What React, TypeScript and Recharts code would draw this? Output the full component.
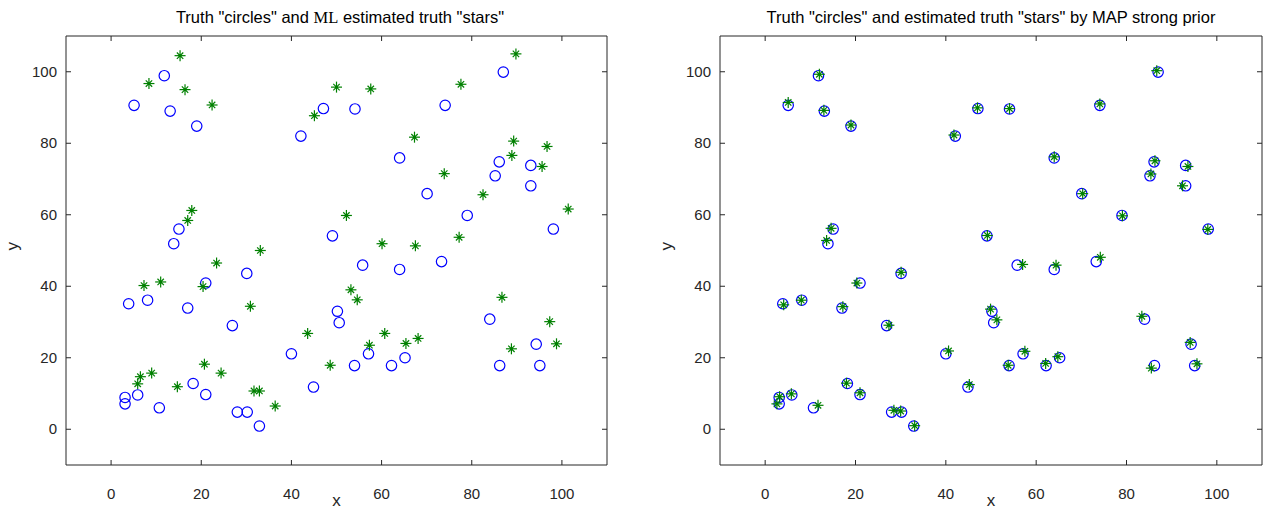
import React from "react";
import { ScatterChart, Scatter, XAxis, YAxis, ReferenceArea } from "recharts";

// Truth positions ("circles")
const TRUTH_X = [11.8, 5.1, 13.1, 19.0, 42.1, 47.1, 15.05, 13.9, 49.1, 87.0, 54.1, 74.1, 64.0, 86.1, 85.2, 93.1, 93.1, 70.1, 79.0, 98.1, 30.1, 21.0, 3.9, 8.1, 17.0, 26.9, 40.0, 44.9, 18.2, 21.0, 5.9, 3.1, 3.1, 10.7, 28.0, 30.2, 32.9, 50.2, 50.6, 55.8, 64.0, 73.3, 57.1, 65.2, 54.0, 62.2, 84.0, 94.3, 86.2, 95.1];
const TRUTH_Y = [98.9, 90.6, 89.0, 84.8, 82.0, 89.7, 56.0, 51.9, 54.1, 99.9, 89.6, 90.6, 75.9, 74.8, 70.9, 73.8, 68.1, 65.9, 59.8, 56.0, 43.6, 40.9, 35.1, 36.1, 33.9, 29.0, 21.1, 11.8, 12.8, 9.7, 9.6, 8.9, 7.1, 6.0, 4.8, 4.8, 0.9, 33.0, 29.8, 45.9, 44.7, 46.9, 21.1, 20.0, 17.8, 17.8, 30.8, 23.8, 17.8, 17.8];

// ML estimated truth ("stars", left panel)
const ML_X = [15.3, 8.4, 16.4, 22.4, 45.1, 50.0, 17.9, 17.0, 33.1, 89.8, 57.6, 77.6, 67.3, 89.3, 88.9, 96.7, 95.6, 73.9, 82.5, 101.4, 52.2, 60.1, 67.5, 77.2, 23.4, 7.3, 11.0, 20.4, 30.9, 43.6, 48.6, 20.7, 24.4, 9.0, 6.5, 5.9, 14.7, 31.7, 32.9, 36.4, 53.2, 54.6, 60.7, 68.1, 65.4, 57.3, 86.7, 97.3, 88.8, 98.8];
const ML_Y = [104.5, 96.7, 95.0, 90.7, 87.7, 95.7, 61.2, 58.4, 50.0, 105.0, 95.2, 96.5, 81.7, 80.6, 76.6, 79.1, 73.5, 71.5, 65.6, 61.6, 59.8, 51.9, 51.3, 53.7, 46.5, 40.2, 41.2, 39.9, 34.4, 26.8, 17.9, 18.2, 15.7, 15.7, 14.7, 12.7, 11.9, 10.7, 10.7, 6.5, 39.0, 36.2, 26.8, 25.4, 24.0, 23.5, 36.9, 30.1, 22.5, 23.9];

// MAP (strong prior) estimated truth ("stars", right panel)
const MAP_X = [12.0, 5.1, 13.0, 19.0, 41.8, 47.0, 14.6, 13.6, 49.2, 86.7, 54.1, 74.1, 64.0, 86.3, 85.4, 93.6, 92.4, 70.3, 79.1, 98.0, 30.1, 20.3, 4.1, 8.0, 17.2, 27.4, 40.6, 45.2, 18.0, 21.0, 5.8, 3.2, 2.6, 11.7, 28.5, 30.0, 33.1, 49.9, 51.3, 57.0, 64.4, 74.2, 57.5, 64.8, 53.8, 62.1, 83.4, 94.1, 85.5, 95.6];
const MAP_Y = [99.3, 91.4, 89.2, 85.1, 82.3, 89.9, 56.2, 52.8, 54.2, 100.3, 89.7, 91.0, 76.2, 75.1, 71.4, 73.5, 68.1, 65.9, 59.7, 55.9, 43.9, 40.9, 34.8, 36.1, 34.3, 29.1, 21.9, 12.5, 12.9, 10.2, 9.9, 9.1, 7.1, 6.7, 5.3, 5.1, 1.0, 33.6, 30.6, 46.1, 45.9, 48.1, 21.8, 20.3, 17.9, 18.4, 31.6, 24.3, 17.1, 18.3];

const TICKS = [0, 20, 40, 60, 80, 100];
const DOMAIN: [number, number] = [-10, 110];

const TITLE_LEFT_A = 'Truth "circles" and ';
const TITLE_LEFT_ML = "ML";
const TITLE_LEFT_B = ' estimated truth "stars"';
const TITLE_RIGHT = 'Truth "circles" and estimated truth "stars" by MAP strong prior';

const zip = (xs: number[], ys: number[]) => xs.map((x, i) => ({ x, y: ys[i] }));
const truthData = zip(TRUTH_X, TRUTH_Y);
const mlData = zip(ML_X, ML_Y);
const mapData = zip(MAP_X, MAP_Y);

const AXIS_COLOR = "#262626";
const FONT = "'Liberation Sans', Arial, sans-serif";
const TICK_FS = 15;

const CircleShape = (props: any) => {
  const { cx, cy } = props;
  if (cx == null || cy == null) return null;
  return <circle cx={cx} cy={cy} r={5.2} fill="none" stroke="#0000FF" strokeWidth={1.2} />;
};

const StarShape = (props: any) => {
  const { cx, cy } = props;
  if (cx == null || cy == null) return null;
  const a = 5.5;
  const d = 3.2;
  return (
    <g stroke="#008000" strokeWidth={1.2}>
      <line x1={cx - a} y1={cy} x2={cx + a} y2={cy} />
      <line x1={cx} y1={cy - a} x2={cx} y2={cy + a} />
      <line x1={cx - d} y1={cy - d} x2={cx + d} y2={cy + d} />
      <line x1={cx - d} y1={cy + d} x2={cx + d} y2={cy - d} />
      <circle cx={cx} cy={cy} r={1.6} fill="#008000" stroke="none" />
    </g>
  );
};

const CH_H = 512;
const PLOT_TOP = 36;
const PLOT_BOTTOM = 465;
const Y_AXIS_W = 56;
const X_AXIS_H = 40;
const M_LEFT = 10;

function Panel({ width, plotWidth, stars }: { width: number; plotWidth: number; stars: { x: number; y: number }[] }) {
  const rightMargin = width - M_LEFT - Y_AXIS_W - plotWidth;
  const XTick = (p: any) => {
    const { x, y, payload } = p;
    return (
      <g>
        <line x1={x} x2={x} y1={y} y2={y - 5} stroke={AXIS_COLOR} />
        <line x1={x} x2={x} y1={PLOT_TOP} y2={PLOT_TOP + 5} stroke={AXIS_COLOR} />
        <text x={x} y={y + 34} textAnchor="middle" fontSize={TICK_FS} fontFamily={FONT} fill={AXIS_COLOR}>
          {payload.value}
        </text>
      </g>
    );
  };
  const YTick = (p: any) => {
    const { x, y, payload } = p;
    return (
      <g>
        <line x1={x} x2={x + 5} y1={y} y2={y} stroke={AXIS_COLOR} />
        <line x1={x + plotWidth} x2={x + plotWidth - 5} y1={y} y2={y} stroke={AXIS_COLOR} />
        <text x={x - 9} y={y + 5} textAnchor="end" fontSize={TICK_FS} fontFamily={FONT} fill={AXIS_COLOR}>
          {payload.value}
        </text>
      </g>
    );
  };
  return (
    <ScatterChart
      width={width}
      height={CH_H}
      margin={{ top: PLOT_TOP, right: rightMargin, bottom: CH_H - PLOT_BOTTOM - X_AXIS_H, left: M_LEFT }}
    >
      <XAxis
        type="number"
        dataKey="x"
        domain={DOMAIN}
        ticks={TICKS}
        allowDataOverflow
        height={X_AXIS_H}
        axisLine={false}
        tickLine={false}
        tickSize={0}
        tickMargin={0}
        tick={XTick}
        interval={0}
        label={{ value: "x", position: "insideBottom", offset: -1, fontSize: 17, fontFamily: FONT, fill: AXIS_COLOR }}
      />
      <YAxis
        type="number"
        dataKey="y"
        domain={DOMAIN}
        ticks={TICKS}
        allowDataOverflow
        width={Y_AXIS_W}
        axisLine={false}
        tickLine={false}
        tickSize={0}
        tickMargin={0}
        tick={YTick}
        interval={0}
        label={{ value: "y", angle: -90, position: "insideLeft", offset: 2, fontSize: 17, fontFamily: FONT, fill: AXIS_COLOR }}
      />
      <ReferenceArea x1={-10} x2={110} y1={-10} y2={110} fill="none" stroke={AXIS_COLOR} strokeWidth={1} fillOpacity={0} />
      <Scatter data={truthData} shape={CircleShape} isAnimationActive={false} />
      <Scatter data={stars} shape={StarShape} isAnimationActive={false} />
    </ScatterChart>
  );
}

const titleStyle: React.CSSProperties = {
  position: "absolute",
  top: 7,
  fontFamily: FONT,
  fontSize: 16.5,
  color: "#000",
  whiteSpace: "nowrap",
  transform: "translateX(-50%)",
  lineHeight: "20px",
};

export default function App() {
  return (
    <div style={{ position: "absolute", left: 0, top: 0, width: 1269, height: 512, background: "#fff", overflow: "hidden" }}>
      <div style={{ position: "absolute", left: 0, top: 0 }}>
        <Panel width={640} plotWidth={541} stars={mlData} />
      </div>
      <div style={{ position: "absolute", left: 654, top: 0 }}>
        <Panel width={615} plotWidth={542} stars={mapData} />
      </div>
      <div style={{ ...titleStyle, left: 340 }}>
        {TITLE_LEFT_A}
        <span style={{ fontFamily: "'Liberation Serif', 'DejaVu Serif', serif" }}>{TITLE_LEFT_ML}</span>
        {TITLE_LEFT_B}
      </div>
      <div style={{ ...titleStyle, left: 991 }}>{TITLE_RIGHT}</div>
    </div>
  );
}
